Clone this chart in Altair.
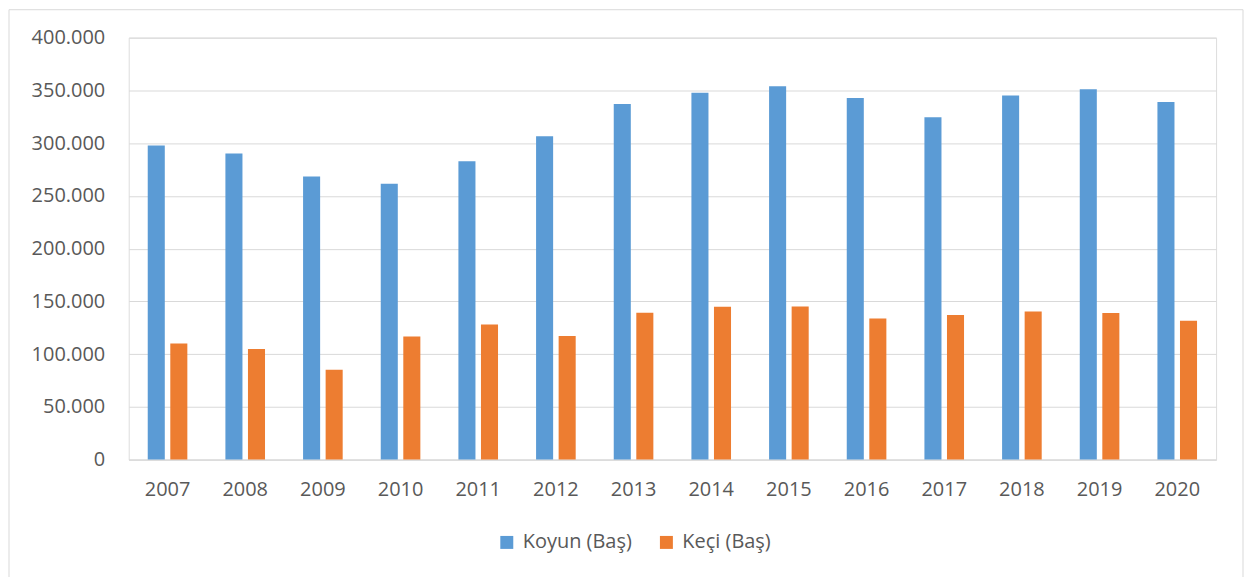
import altair as alt
import pandas as pd

years = ["2007", "2008", "2009", "2010", "2011", "2012", "2013",
         "2014", "2015", "2016", "2017", "2018", "2019", "2020"]
koyun = [297800, 290200, 268300, 261600, 282800, 306600, 337000,
         347700, 354000, 342700, 324600, 345200, 351200, 338900]
keci = [110100, 104800, 85100, 116700, 128100, 117100, 139300,
        145000, 145200, 133800, 137100, 140500, 139000, 131700]
series = ["Koyun (Baş)", "Keçi (Baş)"]
colors = ["#5B9BD5", "#ED7D31"]

rows = []
for i, y in enumerate(years):
    rows.append({"yil": y, "tur": series[0], "deger": koyun[i]})
    rows.append({"yil": y, "tur": series[1], "deger": keci[i]})
df = pd.DataFrame(rows)

FONT = "Open Sans"
TXT = "#595959"

bars = alt.Chart(df).mark_bar().encode(
    x=alt.X("yil:N", sort=years, title=None,
            scale=alt.Scale(paddingInner=0.49, paddingOuter=0.245),
            axis=alt.Axis(labelAngle=0, ticks=False, domain=True,
                          domainColor="#D9D9D9", labelPadding=20,
                          labelFontSize=20, labelFont=FONT, labelColor=TXT,
                          grid=False)),
    xOffset=alt.XOffset("tur:N", sort=series,
                        scale=alt.Scale(paddingInner=0.244, paddingOuter=0)),
    y=alt.Y("deger:Q", title=None,
            scale=alt.Scale(domain=[0, 400000], nice=False),
            axis=alt.Axis(values=[0, 50000, 100000, 150000, 200000, 250000,
                                  300000, 350000, 400000],
                          labelExpr="replace(format(datum.value, ','), ',', '.')",
                          ticks=False, domain=False, grid=True,
                          gridColor="#D9D9D9", gridWidth=1,
                          labelPadding=24, labelFontSize=20, labelFont=FONT,
                          labelColor=TXT)),
    color=alt.Color("tur:N", sort=series,
                    scale=alt.Scale(domain=series, range=colors),
                    legend=alt.Legend(title=None, orient="none",
                                      direction="horizontal",
                                      legendX=369, legendY=496,
                                      symbolType="square", symbolSize=169,
                                      symbolStrokeWidth=0,
                                      labelFontSize=20, labelFont=FONT,
                                      labelColor=TXT, labelOffset=6,
                                      columnPadding=24)),
)

frame = alt.Chart(pd.DataFrame({"f": [0]})).mark_rect(
    fill="transparent", stroke="#D9D9D9", strokeWidth=1
).encode(
    x=alt.value(-120), x2=alt.value(1117),
    y=alt.value(-28), y2=alt.value(560),
)

chart = alt.layer(frame, bars).properties(
    width=1090, height=423, padding=0
).configure_view(stroke=None).configure(background="white")

chart.save("out.html", embed_options={"renderer": "svg", "actions": False})
